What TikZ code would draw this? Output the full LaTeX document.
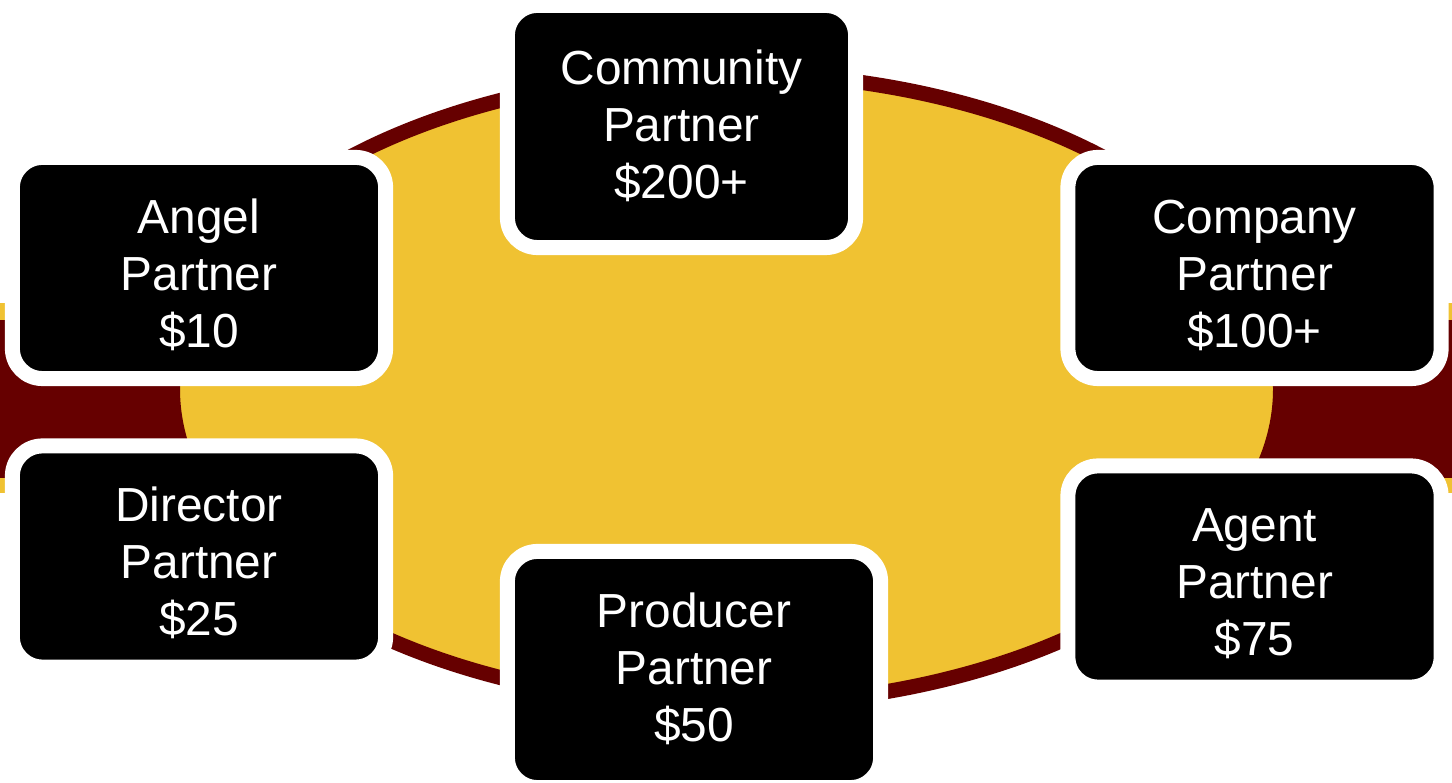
\documentclass[tikz,border=0pt]{standalone}
\usepackage{fontspec}
\setmainfont{Liberation Sans}
\usepackage{tikz}
\definecolor{bandred}{HTML}{660000}
\definecolor{ovalgold}{HTML}{F0C232}
\newcommand{\tiertext}[3][-0.11cm]{\raisebox{#1}[\height][\depth]{\begin{tabular}{@{}c@{}}#2\\Partner\\#3\end{tabular}}}

\begin{document}
\begin{tikzpicture}[x=0.01cm, y=-0.01cm,    partner/.style={draw=white, fill=black, text=white, line width=0.15cm, rounded corners=0.3cm, font=\fontsize{13.6}{16.2}\selectfont, minimum width=3.73cm, minimum height=2.21cm}]
		% set the page
		\useasboundingbox (0,0) rectangle (1452,783);
		\clip (0,0) rectangle (1452,783);
		% draw the band and the oval
		\fill[ovalgold] (-20,303) rectangle (1472,493);
		\fill[bandred] (-20,320) rectangle (1472,478);
		\draw[bandred, fill=ovalgold, line width=0.15cm] (726.5,389) ellipse [x radius=554, y radius=316];
		% add the partners
		\node[partner, minimum width=3.48cm, minimum height=2.42cm] (community) at (681.5,126.5) {\tiertext[-0.04cm]{Community}{\$200+}};
		\node[partner] (angel) at (199,268) {\tiertext{Angel}{\$10}};
		\node[partner] (company) at (1254.5,268) {\tiertext{Company}{\$100+}};
		\node[partner] (director) at (199,556.5) {\tiertext{Director}{\$25}};
		\node[partner] (agent) at (1254.5,576.5) {\tiertext{Agent}{\$75}};
		\node[partner, minimum height=2.36cm] (producer) at (694,669.5) {\tiertext[-0.04cm]{Producer}{\$50}};
	\end{tikzpicture}
\end{document}
